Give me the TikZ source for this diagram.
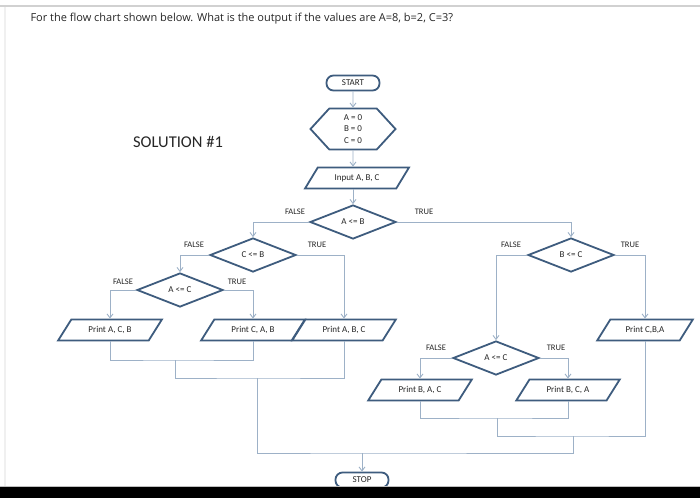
\documentclass[tikz,border=0pt]{standalone}
\usepackage{fontspec}
\setmainfont{Carlito}
\newfontfamily\questionfont{Open Sans}
\usepackage{xcolor}
\usepackage{tikz}
\usetikzlibrary{arrows.meta, positioning, shapes.geometric, shapes.symbols}
\definecolor{shapeblue}{HTML}{3E5C7E}
\definecolor{linkblue}{HTML}{9DB1C7}
\definecolor{textgray}{HTML}{262626}

\begin{document}
\begin{tikzpicture}[
        x=1pt, y=-1pt,
        font=\fontsize{9}{11.5}\selectfont, text=textgray,
        term/.style={rectangle, rounded corners=7pt, draw=shapeblue, line width=1.8pt, fill=white, minimum width=53pt, minimum height=15pt, inner sep=0pt},
        prep/.style={signal, signal to=west and east, signal pointer angle=95, draw=shapeblue, line width=1.8pt, fill=white, minimum width=85pt, minimum height=41pt, inner sep=0pt, align=center},
        io/.style={trapezium, trapezium left angle=45, trapezium right angle=135, trapezium stretches=true, draw=shapeblue, line width=1.8pt, fill=white, minimum width=104pt, minimum height=21pt, inner sep=0pt},
        test/.style={diamond, draw=shapeblue, line width=1.8pt, fill=white, minimum width=86pt, minimum height=34pt, inner sep=0pt},
        arrow/.style={-{Straight Barb[length=4pt, width=6pt]}, draw=linkblue, line width=0.9pt},
        link/.style={draw=linkblue, line width=0.9pt},
        lbl/.style={font=\fontsize{8.5}{9}\selectfont},
    ]
        \useasboundingbox (0,0) rectangle (700,498);
        \draw[line width=1.5pt, black!18] (0,6) -- (700,6);
        \draw[line width=2pt, black!6] (5,7) -- (5,486);

        \node[anchor=west, font=\questionfont\fontsize{11}{13}\selectfont] (question) at (27,19) {For the flow chart shown below. What is the output if the values are A=8, b=2, C=3?};
        \node[font=\fontsize{16.5}{20}\selectfont] (solution) at (178,142) {SOLUTION \#1};

        \node[term] (start) at (353,83) {START};
        \node[prep] (init) at (353,129) {A = 0\\ B = 0\\ C = 0};
        \node[io] (input) at (357,178) {Input A, B, C};
        \node[test] (ab) at (353,222) {A <= B};
        \node[test] (cb) at (253,255) {C <= B};
        \node[test] (acl) at (180,290) {A <= C};
        \node[test] (bc) at (571,255) {B <= C};
        \node[test] (acr) at (496,358) {A <= C};

        \node[io] (pacb) at (110,330) {Print A, C, B};
        \node[io] (pcab) at (253,330) {Print C, A, B};
        \node[io] (pabc) at (344,330) {Print A, B, C};
        \node[io, minimum width=96pt] (pcba) at (645,330) {Print C,B,A};
        \node[io] (pbac) at (420,390) {Print B, A, C};
        \node[io] (pbca) at (568,390) {Print B, C, A};
        \node[term] (stop) at (362,480) {STOP};

        \node[lbl] (abf) at (295,212) {FALSE};
        \node[lbl] (abt) at (424,212) {TRUE};
        \node[lbl] (cbf) at (194,245) {FALSE};
        \node[lbl] (cbt) at (317,245) {TRUE};
        \node[lbl] (aclf) at (123,282) {FALSE};
        \node[lbl] (aclt) at (237,282) {TRUE};
        \node[lbl] (bcf) at (511,245) {FALSE};
        \node[lbl] (bct) at (630,245) {TRUE};
        \node[lbl] (acrf) at (436,348) {FALSE};
        \node[lbl] (acrt) at (556,348) {TRUE};

        \draw[arrow] (start) -- (init);
        \draw[arrow] (init) -- (init |- input.north);
        \draw[arrow] (ab |- input.south) -- (ab);
        \draw[arrow] (ab.west) -| (cb.north);
        \draw[arrow] (ab.east) -| (bc.north);
        \draw[arrow] (cb.west) -| (acl.north);
        \draw[arrow] (cb.east) -| (pabc.north);
        \draw[arrow] (acl.west) -| (pacb.north);
        \draw[arrow] (acl.east) -| (pcab.north);
        \draw[arrow] (bc.west) -| (acr.north);
        \draw[arrow] (bc.east) -| (pcba.north);
        \draw[arrow] (acr.west) -| (pbac.north);
        \draw[arrow] (acr.east) -| (pbca.north);

        \coordinate (joinl) at (175,360);
        \coordinate (joinm) at (257,378);
        \coordinate (joinr) at (497,418);
        \coordinate (joinrr) at (573,436);
        \coordinate (joinb) at (362,453);
        \draw[link] (pacb.south) |- (joinl) -| (pcab.south);
        \draw[link] (joinl) |- (joinm) -| (pabc.south);
        \draw[link] (pbac.south) |- (joinr) -| (pbca.south);
        \draw[link] (joinr) |- (joinrr) -| (pcba.south);
        \draw[link] (joinm) |- (joinb) -| (joinrr);
        \draw[arrow] (joinb) -- (stop);

        \fill[black] (0,487) rectangle (700,498);
        \draw[line width=1pt, black!25] (0,486.5) -- (700,486.5);
    \end{tikzpicture}
\end{document}
